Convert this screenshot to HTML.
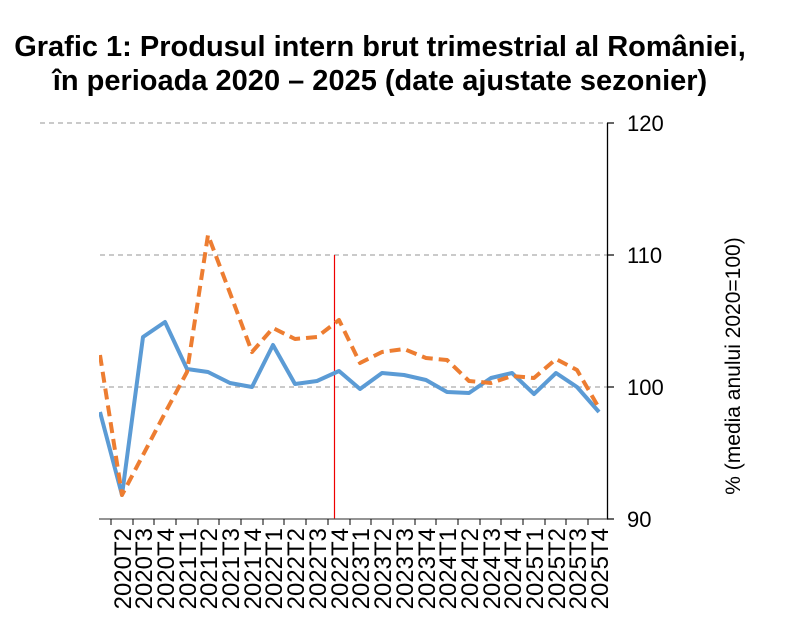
<!DOCTYPE html>
<html><head><meta charset="utf-8"><style>body{margin:0;background:#fff}</style></head><body>
<svg width="790" height="623" xmlns="http://www.w3.org/2000/svg" font-family="Liberation Sans, Arial, sans-serif">
<rect width="790" height="623" fill="#fff"/>
<text x="380" y="56" text-anchor="middle" font-size="29" font-weight="bold">Grafic 1: Produsul intern brut trimestrial al României,</text>
<text x="380" y="90" text-anchor="middle" font-size="29" font-weight="bold">în perioada 2020 – 2025 (date ajustate sezonier)</text>
<g stroke="#aaa" stroke-width="1.2" stroke-dasharray="5,4">
<line x1="40" y1="123" x2="607" y2="123"/>
<line x1="100" y1="255" x2="607" y2="255"/>
<line x1="100" y1="387" x2="607" y2="387"/>
</g>
<line x1="334.5" y1="255" x2="334.5" y2="519" stroke="#e00" stroke-width="1.2"/>
<line x1="607.5" y1="123" x2="607.5" y2="519" stroke="#000" stroke-width="1.3"/>
<line x1="99" y1="519" x2="608" y2="519" stroke="#555" stroke-width="1.3"/>
<g stroke="#000" stroke-width="1.2">
<line x1="607" y1="123" x2="614" y2="123"/><line x1="607" y1="255" x2="614" y2="255"/><line x1="607" y1="387" x2="614" y2="387"/><line x1="607" y1="519" x2="614" y2="519"/>
</g>
<g font-size="22" fill="#000">
<text x="627" y="131">120</text><text x="627" y="263">110</text><text x="627" y="395">100</text><text x="627" y="527">90</text>
</g>
<text transform="translate(740,366) rotate(-90)" text-anchor="middle" font-size="21">% (media anului 2020=100)</text>
<svg x="99" y="0" width="509" height="623" overflow="hidden">
<g transform="translate(-99,0)">
<polyline fill="none" stroke="#5b9bd5" stroke-width="4" stroke-linejoin="round" points="100,412 122,495 143,337 165,322 187,369 208,372 230,383 252,387 273,345 295,384 317,381 339,371 360,389 382,373 404,375 426,380 447,392 469,393 491,378 512,373 534,394 556,373 577,387 599,412"/>
<polyline fill="none" stroke="#ed7d31" stroke-width="4" stroke-dasharray="11,6" stroke-linejoin="round" points="100,355 122,495 143,455 165,413 187,372 208,235 230,293 252,352 273,328 295,339 317,337 339,320 360,363 382,352 404,349 426,358 447,360 469,381 491,383 512,376 534,378 556,359 577,370 599,408"/>
</g></svg>
<g stroke="#000" stroke-width="1">
<line x1="111" y1="519" x2="111" y2="525"/><line x1="133" y1="519" x2="133" y2="525"/><line x1="154" y1="519" x2="154" y2="525"/><line x1="176" y1="519" x2="176" y2="525"/><line x1="198" y1="519" x2="198" y2="525"/><line x1="219" y1="519" x2="219" y2="525"/><line x1="241" y1="519" x2="241" y2="525"/><line x1="263" y1="519" x2="263" y2="525"/><line x1="284" y1="519" x2="284" y2="525"/><line x1="306" y1="519" x2="306" y2="525"/><line x1="328" y1="519" x2="328" y2="525"/><line x1="350" y1="519" x2="350" y2="525"/><line x1="371" y1="519" x2="371" y2="525"/><line x1="393" y1="519" x2="393" y2="525"/><line x1="415" y1="519" x2="415" y2="525"/><line x1="436" y1="519" x2="436" y2="525"/><line x1="458" y1="519" x2="458" y2="525"/><line x1="480" y1="519" x2="480" y2="525"/><line x1="501" y1="519" x2="501" y2="525"/><line x1="523" y1="519" x2="523" y2="525"/><line x1="545" y1="519" x2="545" y2="525"/><line x1="566" y1="519" x2="566" y2="525"/><line x1="588" y1="519" x2="588" y2="525"/>
</g>
<g font-size="24" fill="#000" text-anchor="end">
<text transform="translate(131,528) rotate(-90)">2020T2</text>
<text transform="translate(152,528) rotate(-90)">2020T3</text>
<text transform="translate(174,528) rotate(-90)">2020T4</text>
<text transform="translate(196,528) rotate(-90)">2021T1</text>
<text transform="translate(217,528) rotate(-90)">2021T2</text>
<text transform="translate(239,528) rotate(-90)">2021T3</text>
<text transform="translate(261,528) rotate(-90)">2021T4</text>
<text transform="translate(282,528) rotate(-90)">2022T1</text>
<text transform="translate(304,528) rotate(-90)">2022T2</text>
<text transform="translate(326,528) rotate(-90)">2022T3</text>
<text transform="translate(348,528) rotate(-90)">2022T4</text>
<text transform="translate(369,528) rotate(-90)">2023T1</text>
<text transform="translate(391,528) rotate(-90)">2023T2</text>
<text transform="translate(413,528) rotate(-90)">2023T3</text>
<text transform="translate(435,528) rotate(-90)">2023T4</text>
<text transform="translate(456,528) rotate(-90)">2024T1</text>
<text transform="translate(478,528) rotate(-90)">2024T2</text>
<text transform="translate(500,528) rotate(-90)">2024T3</text>
<text transform="translate(521,528) rotate(-90)">2024T4</text>
<text transform="translate(543,528) rotate(-90)">2025T1</text>
<text transform="translate(565,528) rotate(-90)">2025T2</text>
<text transform="translate(586,528) rotate(-90)">2025T3</text>
<text transform="translate(608,528) rotate(-90)">2025T4</text>
</g>
</svg>
</body></html>
